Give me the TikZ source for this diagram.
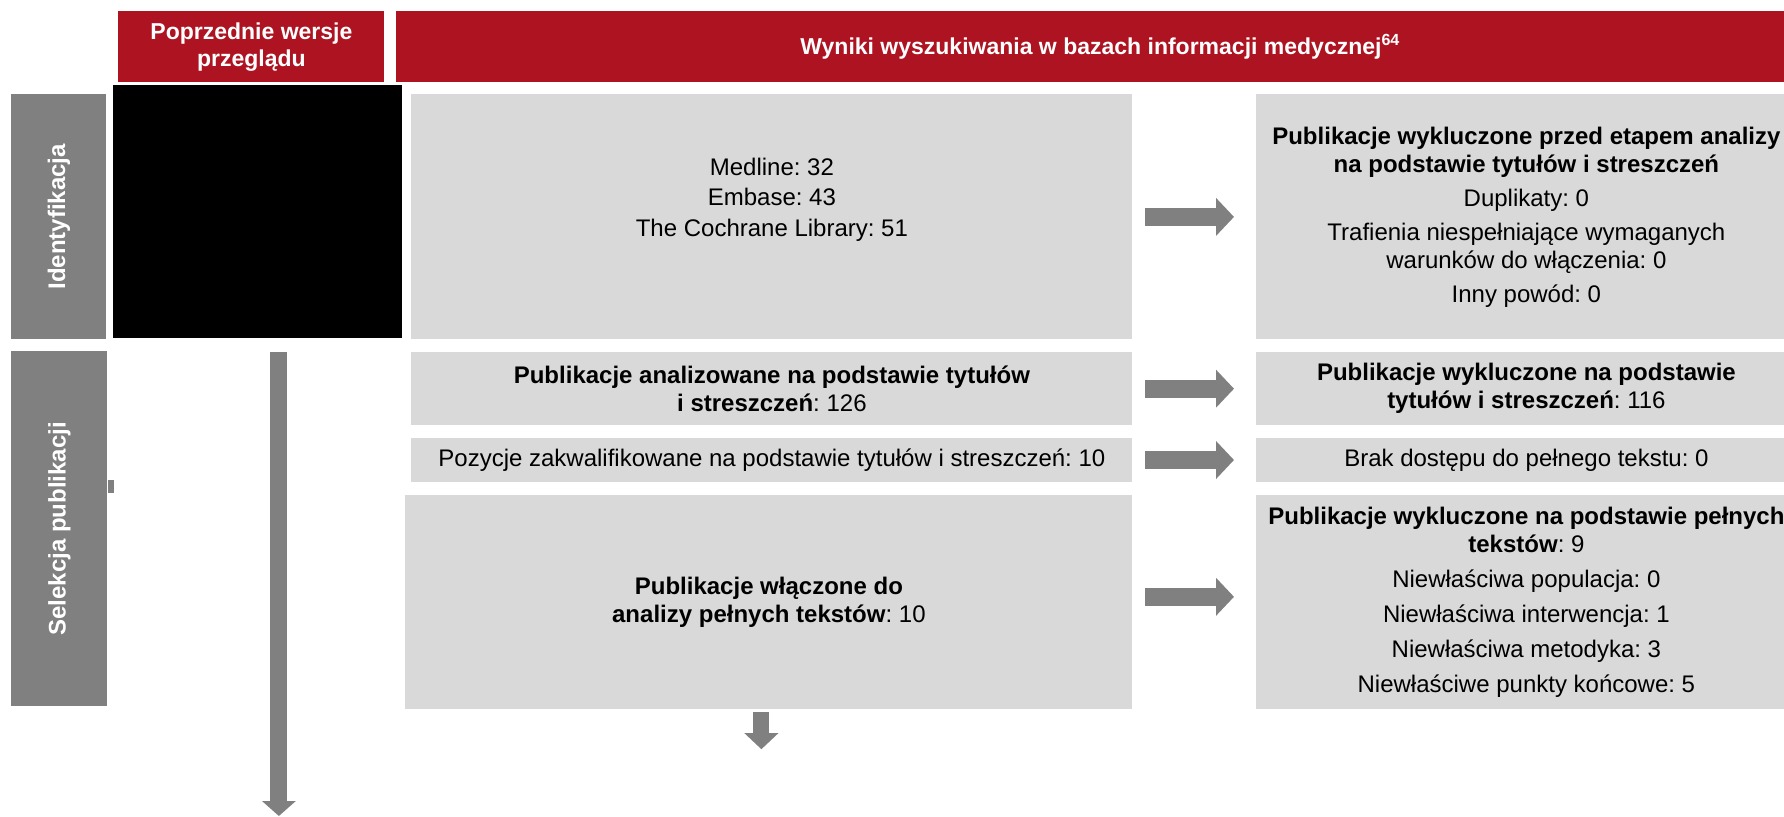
\documentclass[tikz,border=0pt]{standalone}
\usepackage{fontspec}
\setmainfont{Liberation Sans}
\usepackage{graphicx}
\usetikzlibrary{positioning,arrows.meta}
\definecolor{HeadRed}{HTML}{AD1321}
\definecolor{StageGray}{HTML}{808080}
\definecolor{BoxGray}{HTML}{D9D9D9}
\definecolor{FlowGray}{HTML}{808080}
\frenchspacing

\begin{document}
\begin{tikzpicture}[
    x=1pt, y=-1pt,
    node distance=6pt and 6pt,
    head/.style={rectangle, fill=HeadRed, anchor=north west, inner sep=0pt, minimum height=35.5pt, align=center, font=\fontsize{11.5}{13.5}\selectfont\bfseries\color{white}},
    stage/.style={rectangle, fill=StageGray, anchor=north west, inner sep=0pt, minimum width=47.5pt, font=\fontsize{12}{14}\selectfont\bfseries\color{white}},
    box/.style={rectangle, fill=BoxGray, inner sep=0pt, minimum width=360.5pt, align=center, font=\fontsize{12}{14}\selectfont},
    excl/.style={box, minimum width=270pt},
    flow/.style={draw=FlowGray, line width=9pt, -{Triangle[length=9pt,width=18.5pt]}},
    down/.style={flow, line width=8.5pt, -{Triangle[length=7.5pt,width=16.5pt]}}
  ]
    \useasboundingbox (0,0) rectangle (892,408);

    % Column headers
    \node (hprev) [head, minimum width=133pt] at (59,5.5) {Poprzednie wersje\\przeglądu};
    \node (hsearch) [head, minimum width=704pt] at (198,5.5) {Wyniki wyszukiwania w bazach informacji medycznej\textsuperscript{64}};

    % Previous versions
    \node (prev) [rectangle, fill=black, anchor=north west, minimum width=144.5pt, minimum height=126.5pt] at (56.5,42.5) {};

    % Stages
    \node (ident) [stage, minimum height=122.5pt] at (5.5,47) {\rotatebox{90}{Identyfikacja}};
    \node (select) [stage, minimum width=48pt, minimum height=177.5pt] at (5.5,175.5) {\rotatebox{90}{Selekcja publikacji}};
    \fill [StageGray] ([yshift=17.75pt]select.east) rectangle ++(3,-6.5);

    % Search results
    \node (medline) [box, anchor=north west, minimum height=122.5pt] at (205.5,47) {Medline: 32\\[1.25pt]Embase: 43\\[1.25pt]The Cochrane Library: 51\\[6pt]\mbox{}};
    \node (analiz) [box, below=of medline, minimum height=36.5pt] {\textbf{Publikacje analizowane na podstawie tytułów}\\\textbf{i streszczeń}: 126};
    \node (pozycje) [box, below=of analiz, minimum height=22pt] {Pozycje zakwalifikowane na podstawie tytułów i streszczeń: 10};
    \node (wlacz) [box, below=of pozycje.south east, anchor=north east, minimum width=363.5pt, minimum height=107pt] {\textbf{Publikacje włączone do}\\\textbf{analizy pełnych tekstów}: 10};

    % Exclusions
    \node (excl1) [excl, anchor=north west, minimum height=122.5pt] at (628,47) {\textbf{Publikacje wykluczone przed etapem analizy}\\\textbf{na podstawie tytułów i streszczeń}\\[3pt]Duplikaty: 0\\[3pt]Trafienia niespełniające wymaganych\\warunków do włączenia: 0\\[3pt]Inny powód: 0};
    \node (excl2) [excl, below=of excl1, minimum height=36.5pt] {\textbf{Publikacje wykluczone na podstawie}\\\textbf{tytułów i streszczeń}: 116};
    \node (brak) [excl, below=of excl2, minimum height=22pt] {Brak dostępu do pełnego tekstu: 0};
    \node (excl3) [excl, below=of brak, minimum height=107pt] {\textbf{Publikacje wykluczone na podstawie pełnych}\\\textbf{tekstów}: 9\\[3.5pt]Niewłaściwa populacja: 0\\[3.5pt]Niewłaściwa interwencja: 1\\[3.5pt]Niewłaściwa metodyka: 3\\[3.5pt]Niewłaściwe punkty końcowe: 5};

    % Connections
    \draw [flow] ([xshift=6pt]medline.east) -- ([xshift=-11pt]excl1.west);
    \draw [flow] ([xshift=6pt]analiz.east) -- ([xshift=-11pt]excl2.west);
    \draw [flow] ([xshift=6pt]pozycje.east) -- ([xshift=-11pt]brak.west);
    \draw [flow] ([xshift=6pt,yshift=2.5pt]wlacz.east) -- ([xshift=-11pt,yshift=2.5pt]excl3.west);

    \coordinate (prevtop) at ([xshift=10.5pt,yshift=-6.5pt]prev.south);
    \coordinate (prevend) at (prevtop |- 0,408);
    \draw [down] (prevtop) -- (prevend);

    \coordinate (wlacztop) at ([xshift=-3.75pt,yshift=-1.5pt]wlacz.south);
    \coordinate (wlaczend) at ([xshift=-3.75pt,yshift=-20pt]wlacz.south);
    \draw [down, line width=8pt, -{Triangle[length=8pt,width=16.5pt]}] (wlacztop) -- (wlaczend);
\end{tikzpicture}
\end{document}
